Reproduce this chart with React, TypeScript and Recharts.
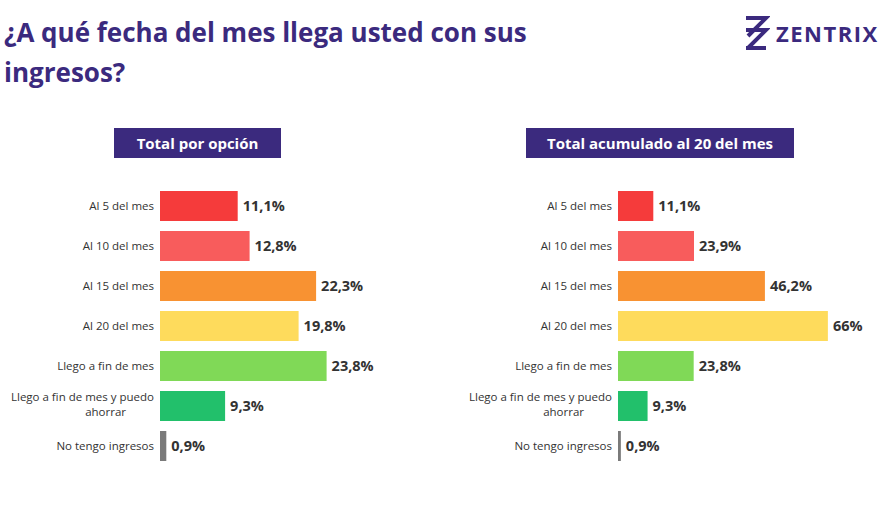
import { BarChart, Bar, XAxis, YAxis, Cell, LabelList } from 'recharts';

const categories = [
  'Al 5 del mes',
  'Al 10 del mes',
  'Al 15 del mes',
  'Al 20 del mes',
  'Llego a fin de mes',
  'Llego a fin de mes y puedo ahorrar',
  'No tengo ingresos',
];
const totalPorOpcion = [11.1, 12.8, 22.3, 19.8, 23.8, 9.3, 0.9];
const totalAcumulado = [11.1, 23.9, 46.2, 66, 23.8, 9.3, 0.9];
const colors = ['#f53b3b', '#f85c5c', '#f89232', '#fedb5c', '#80d957', '#22c06b', '#7a7a7a'];

const purple = '#3b2a7e';
const font = '"Open Sans", "Noto Sans", sans-serif';

const fmt = (v: number) => `${String(v).replace('.', ',')}%`;

function CatTick(props: any) {
  const { x, y, payload } = props;
  const v: string = payload.value;
  const tx = x + 2;
  if (v === 'Llego a fin de mes y puedo ahorrar') {
    return (
      <text x={tx} y={y} textAnchor="end" fontSize={11.5} fill="#333" fontFamily={font}>
        <tspan x={tx} dy={-5}>Llego a fin de mes y puedo</tspan>
        <tspan x={tx - 28} dy={15}>ahorrar</tspan>
      </text>
    );
  }
  return (
    <text x={tx} y={y + 4} textAnchor="end" fontSize={11.5} fill="#333" fontFamily={font}>
      {v}
    </text>
  );
}

function Panel({ values, left, yWidth, width, max }: { values: number[]; left: number; yWidth: number; width: number; max: number }) {
  const data = categories.map((name, i) => ({ name, value: values[i] }));
  return (
    <div style={{ position: 'absolute', left, top: 186 }}>
      <BarChart width={width} height={280} data={data} layout="vertical" margin={{ top: 0, right: 0, bottom: 0, left: 0 }} barCategoryGap={10}>
        <XAxis type="number" hide domain={[0, max]} />
        <YAxis type="category" dataKey="name" width={yWidth} axisLine={false} tickLine={false} tick={<CatTick />} interval={0} />
        <Bar dataKey="value" isAnimationActive={false} barSize={30}>
          {data.map((_, i) => (
            <Cell key={i} fill={colors[i]} />
          ))}
          <LabelList dataKey="value" position="right" offset={5} formatter={(v: any) => fmt(v)} style={{ fontSize: 14.5, fontWeight: 700, fill: '#333', fontFamily: font }} />
        </Bar>
      </BarChart>
    </div>
  );
}

export default function App() {
  return (
    <div style={{ position: 'absolute', left: 0, top: 0, width: 880, height: 506, background: '#fff', fontFamily: font, overflow: 'hidden' }}>
      <div style={{ position: 'absolute', left: 4, top: 12, color: purple, fontSize: 26, fontWeight: 700, lineHeight: '40px', width: 580 }}>
        ¿A qué fecha del mes llega usted con sus ingresos?
      </div>
      <div style={{ position: 'absolute', left: 742, top: 16, display: 'flex', alignItems: 'center', color: purple }}>
        <svg width={28} height={34} viewBox="0 0 28 34">
          <path d="M4 2 L24 2 L6 20" stroke={purple} strokeWidth={4} fill="none" />
          <path d="M4 14 L24 14 L6 32" stroke={purple} strokeWidth={4} fill="none" />
          <path d="M4 32 L24 32" stroke={purple} strokeWidth={4} fill="none" />
        </svg>
        <span style={{ fontSize: 22, fontWeight: 700, letterSpacing: 1.5, marginLeft: 6 }}>ZENTRIX</span>
      </div>
      <div style={{ position: 'absolute', left: 114, top: 128, width: 167, height: 30, background: purple, color: '#fff', fontSize: 15, fontWeight: 700, display: 'flex', alignItems: 'center', justifyContent: 'center' }}>
        Total por opción
      </div>
      <div style={{ position: 'absolute', left: 526, top: 128, width: 268, height: 30, background: purple, color: '#fff', fontSize: 15, fontWeight: 700, display: 'flex', alignItems: 'center', justifyContent: 'center' }}>
        Total acumulado al 20 del mes
      </div>
      <Panel values={totalPorOpcion} left={0} yWidth={160} width={400} max={240 / 7} />
      <Panel values={totalAcumulado} left={418} yWidth={200} width={462} max={262 / 3.18} />
    </div>
  );
}
